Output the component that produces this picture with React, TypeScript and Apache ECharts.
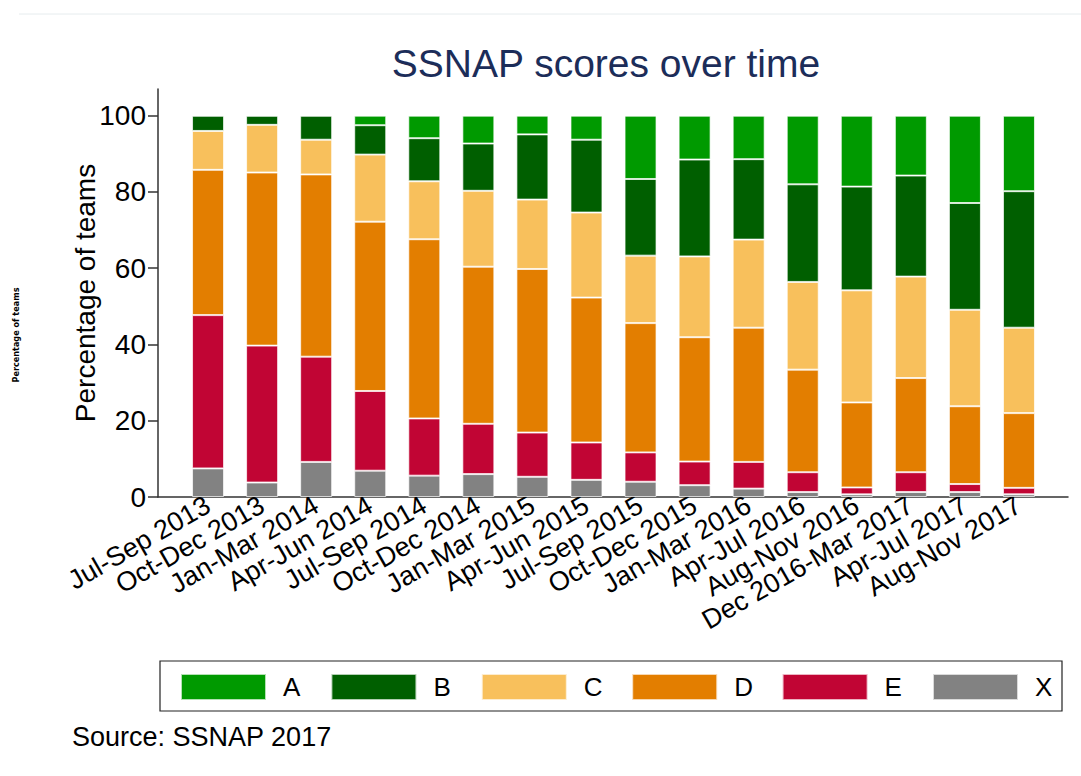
import React, { useEffect, useRef } from "react";
import * as echarts from "echarts";

const categories = [
  "Jul-Sep 2013", "Oct-Dec 2013", "Jan-Mar 2014", "Apr-Jun 2014",
  "Jul-Sep 2014", "Oct-Dec 2014", "Jan-Mar 2015", "Apr-Jun 2015",
  "Jul-Sep 2015", "Oct-Dec 2015", "Jan-Mar 2016", "Apr-Jul 2016",
  "Aug-Nov 2016", "Dec 2016-Mar 2017", "Apr-Jul 2017", "Aug-Nov 2017",
];
const seriesA = [0, 0, 0, 2.5, 5.9, 7.3, 4.9, 6.3, 16.6, 11.5, 11.4, 18.0, 18.6, 15.7, 22.9, 19.8];
const seriesB = [4.0, 2.4, 6.3, 7.7, 11.3, 12.4, 17.1, 19.1, 20.1, 25.4, 21.1, 25.6, 27.2, 26.5, 28.0, 35.8];
const seriesC = [10.2, 12.5, 9.1, 17.6, 15.2, 19.9, 18.2, 22.3, 17.7, 21.2, 23.1, 23.0, 29.4, 26.6, 25.3, 22.4];
const seriesD = [38.1, 45.4, 47.8, 44.4, 47.0, 41.2, 42.9, 38.0, 33.9, 32.6, 35.2, 26.9, 22.3, 24.7, 20.4, 19.6];
const seriesE = [40.2, 35.9, 27.6, 20.9, 15.0, 13.2, 11.6, 9.8, 7.7, 6.2, 7.0, 5.2, 1.8, 5.2, 2.1, 1.7];
const seriesX = [7.5, 3.8, 9.2, 6.9, 5.6, 6.0, 5.3, 4.5, 4.0, 3.1, 2.2, 1.3, 0.7, 1.3, 1.3, 0.7];
const yTicks = [0, 20, 40, 60, 80, 100];
const legendOrder = ["A", "B", "C", "D", "E", "X"];

const FONT = "'Liberation Sans', Arial, Helvetica, sans-serif";

export default function App() {
  const ref = useRef<HTMLDivElement>(null);
  useEffect(() => {
    if (!ref.current) return;
    const chart = echarts.init(ref.current, null, { renderer: "svg" });
    const stackDefs = [
      { name: "X", data: seriesX, color: "#828282" },
      { name: "E", data: seriesE, color: "#C10534" },
      { name: "D", data: seriesD, color: "#E37E00" },
      { name: "C", data: seriesC, color: "#F8C05C" },
      { name: "B", data: seriesB, color: "#005F00" },
      { name: "A", data: seriesA, color: "#009A00" },
    ];
    const axisColor = "#333";
    chart.setOption({
      animation: false,
      textStyle: { fontFamily: FONT },
      grid: [
        { left: 181, right: 35, top: 89, bottom: 279, containLabel: false },
        { left: 158, right: 13, top: 89, bottom: 279, containLabel: false },
      ],
      xAxis: [
        {
          type: "category",
          gridIndex: 0,
          data: categories,
          axisLine: { show: false },
          axisTick: { show: false },
          axisLabel: {
            interval: 0,
            rotate: 30,
            fontSize: 27,
            color: "#000",
            margin: 6,
            fontFamily: FONT,
          },
        },
        {
          type: "value",
          gridIndex: 1,
          min: 0,
          max: 1,
          splitLine: { show: false },
          axisLine: { show: true, onZero: false, lineStyle: { color: axisColor, width: 1.5 } },
          axisTick: { show: false },
          axisLabel: { show: false },
        },
      ],
      yAxis: [
        {
          type: "value",
          gridIndex: 0,
          min: 0,
          max: 107,
          show: false,
          splitLine: { show: false },
        },
        {
          type: "value",
          gridIndex: 1,
          min: 0,
          max: 107,
          name: "Percentage of teams",
          nameLocation: "middle",
          nameGap: 59,
          nameMoveOverlap: false,
          nameTextStyle: { fontSize: 28, color: "#000", fontFamily: FONT },
          splitLine: { show: false },
          axisLine: { show: true, onZero: false, lineStyle: { color: axisColor, width: 1.5 } },
          axisTick: {
            show: true,
            length: 10,
            customValues: yTicks,
            lineStyle: { color: axisColor, width: 1.5 },
          },
          axisLabel: {
            customValues: yTicks,
            fontSize: 28,
            color: "#000",
            margin: 12,
            fontFamily: FONT,
          },
        },
      ],
      legend: legendOrder.map((name, i) => ({
        data: [name],
        left: 180 + i * 150.4,
        top: 673,
        orient: "horizontal",
        icon: "rect",
        itemWidth: 85,
        itemHeight: 26,
        padding: 0,
        textStyle: {
          fontSize: 26,
          color: "#000",
          fontFamily: FONT,
          padding: [0, 0, 0, 12],
        },
      })),
      graphic: [
        {
          type: "line",
          shape: { x1: 19, y1: 14, x2: 1081, y2: 14 },
          style: { stroke: "#e6ecee", lineWidth: 1 },
        },
        {
          type: "text",
          x: 606,
          y: 63,
          style: {
            text: "SSNAP scores over time",
            font: `39px ${FONT}`,
            fill: "#1c2d59",
            align: "center",
            verticalAlign: "middle",
          },
        },
        {
          type: "text",
          x: 16,
          y: 335,
          rotation: Math.PI / 2,
          style: {
            text: "Percentage of teams",
            font: `bold 9px 'Liberation Sans Narrow', 'DejaVu Sans Condensed', ${FONT}`,
            fill: "#000",
            align: "center",
            verticalAlign: "middle",
          },
        },
        {
          type: "rect",
          shape: { x: 160, y: 661, width: 902, height: 50 },
          style: { fill: "none", stroke: "#222", lineWidth: 1.2 },
        },
        {
          type: "text",
          x: 72,
          y: 737,
          style: {
            text: "Source: SSNAP 2017",
            font: `27px ${FONT}`,
            fill: "#000",
            align: "left",
            verticalAlign: "middle",
          },
        },
      ],
      series: stackDefs.map((s) => ({
        name: s.name,
        type: "bar",
        stack: "total",
        xAxisIndex: 0,
        yAxisIndex: 0,
        barWidth: 32,
        data: s.data,
        itemStyle: {
          color: s.color,
          borderColor: "rgba(255,255,255,0.7)",
          borderWidth: 1,
        },
      })),
    });
    return () => chart.dispose();
  }, []);
  return (
    <div
      ref={ref}
      style={{ position: "fixed", left: 0, top: 0, width: 1081, height: 776, background: "#fff" }}
    />
  );
}
